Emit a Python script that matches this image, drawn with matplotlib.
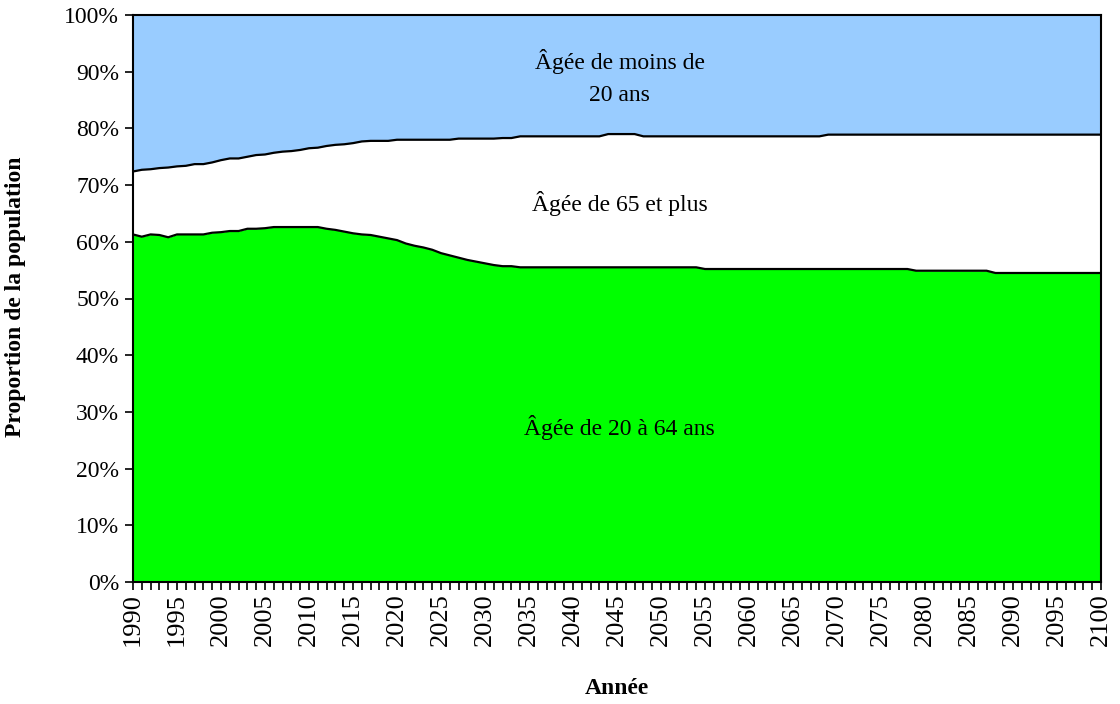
import numpy as np
import matplotlib
matplotlib.use("Agg")
import matplotlib.pyplot as plt
from matplotlib.ticker import MultipleLocator, FuncFormatter

years = list(range(1990, 2101))

# Share (%) of population aged 20 to 64
age_20_64 = [
    61.3, 60.9, 61.3, 61.2, 60.8, 61.3, 61.3, 61.3, 61.3, 61.6,
    61.7, 61.9, 61.9, 62.3, 62.3, 62.4, 62.6, 62.6, 62.6, 62.6,
    62.6, 62.6, 62.3, 62.1, 61.8, 61.5, 61.3, 61.2, 60.9, 60.6,
    60.3, 59.7, 59.3, 59.0, 58.6, 58.0, 57.6, 57.2, 56.8, 56.5,
    56.2, 55.9, 55.7, 55.7, 55.5, 55.5, 55.5, 55.5, 55.5, 55.5,
    55.5, 55.5, 55.5, 55.5, 55.5, 55.5, 55.5, 55.5, 55.5, 55.5,
    55.5, 55.5, 55.5, 55.5, 55.5, 55.2, 55.2, 55.2, 55.2, 55.2,
    55.2, 55.2, 55.2, 55.2, 55.2, 55.2, 55.2, 55.2, 55.2, 55.2,
    55.2, 55.2, 55.2, 55.2, 55.2, 55.2, 55.2, 55.2, 55.2, 54.9,
    54.9, 54.9, 54.9, 54.9, 54.9, 54.9, 54.9, 54.9, 54.5, 54.5,
    54.5, 54.5, 54.5, 54.5, 54.5, 54.5, 54.5, 54.5, 54.5, 54.5,
    54.5,
]

# Share (%) of population aged 65 and over
age_65_plus = [
    11.1, 11.8, 11.5, 11.8, 12.3, 12.0, 12.1, 12.4, 12.4, 12.4,
    12.7, 12.8, 12.8, 12.7, 13.0, 13.0, 13.1, 13.3, 13.4, 13.6,
    13.9, 14.0, 14.6, 15.0, 15.4, 15.9, 16.4, 16.6, 16.9, 17.2,
    17.7, 18.3, 18.7, 19.0, 19.4, 20.0, 20.4, 21.0, 21.4, 21.7,
    22.0, 22.3, 22.6, 22.6, 23.1, 23.1, 23.1, 23.1, 23.1, 23.1,
    23.1, 23.1, 23.1, 23.1, 23.5, 23.5, 23.5, 23.5, 23.1, 23.1,
    23.1, 23.1, 23.1, 23.1, 23.1, 23.4, 23.4, 23.4, 23.4, 23.4,
    23.4, 23.4, 23.4, 23.4, 23.4, 23.4, 23.4, 23.4, 23.4, 23.7,
    23.7, 23.7, 23.7, 23.7, 23.7, 23.7, 23.7, 23.7, 23.7, 24.0,
    24.0, 24.0, 24.0, 24.0, 24.0, 24.0, 24.0, 24.0, 24.4, 24.4,
    24.4, 24.4, 24.4, 24.4, 24.4, 24.4, 24.4, 24.4, 24.4, 24.4,
    24.4,
]

# Share (%) of population under 20
age_under_20 = [
    27.6, 27.3, 27.2, 27.0, 26.9, 26.7, 26.6, 26.3, 26.3, 26.0,
    25.6, 25.3, 25.3, 25.0, 24.7, 24.6, 24.3, 24.1, 24.0, 23.8,
    23.5, 23.4, 23.1, 22.9, 22.8, 22.6, 22.3, 22.2, 22.2, 22.2,
    22.0, 22.0, 22.0, 22.0, 22.0, 22.0, 22.0, 21.8, 21.8, 21.8,
    21.8, 21.8, 21.7, 21.7, 21.4, 21.4, 21.4, 21.4, 21.4, 21.4,
    21.4, 21.4, 21.4, 21.4, 21.0, 21.0, 21.0, 21.0, 21.4, 21.4,
    21.4, 21.4, 21.4, 21.4, 21.4, 21.4, 21.4, 21.4, 21.4, 21.4,
    21.4, 21.4, 21.4, 21.4, 21.4, 21.4, 21.4, 21.4, 21.4, 21.1,
    21.1, 21.1, 21.1, 21.1, 21.1, 21.1, 21.1, 21.1, 21.1, 21.1,
    21.1, 21.1, 21.1, 21.1, 21.1, 21.1, 21.1, 21.1, 21.1, 21.1,
    21.1, 21.1, 21.1, 21.1, 21.1, 21.1, 21.1, 21.1, 21.1, 21.1,
    21.1,
]

area_labels = ["Âgée de 20 à 64 ans", "Âgée de 65 et plus", "Âgée de moins de\n20 ans"]
xlabel = "Année"
ylabel = "Proportion de la population"

plt.rcParams['font.family'] = ['Liberation Serif', 'DejaVu Serif']

x = np.array(years)
g = np.array(age_20_64)
w = np.array(age_65_plus)
b = np.array(age_under_20)
low = g
mid = g + w
top = g + w + b

fig = plt.figure(figsize=(11.2, 7.04), dpi=100)
ax = fig.add_axes([133/1120, 1-582/704, (1101-133)/1120, (582-15)/704])

ax.fill_between(x, 0, low, color='#00FF00', linewidth=0)
ax.fill_between(x, low, mid, color='white', linewidth=0)
ax.fill_between(x, mid, top, color='#99CCFF', linewidth=0)
ax.plot(x, low, color='black', lw=1.6)
ax.plot(x, mid, color='black', lw=1.6)

ax.set_xlim(1990, 2100)
ax.set_ylim(0, 100)
ax.xaxis.set_major_locator(MultipleLocator(5))
ax.xaxis.set_minor_locator(MultipleLocator(1))
ax.yaxis.set_major_locator(MultipleLocator(10))
ax.yaxis.set_major_formatter(FuncFormatter(lambda v, p: f"{int(round(v))}%"))

ax.tick_params(axis='x', which='major', length=6, width=1.2, labelsize=19, pad=2)
ax.tick_params(axis='x', which='minor', length=6, width=1.2)
ax.tick_params(axis='y', which='major', length=6, width=1.2, labelsize=17, pad=4)
plt.setp(ax.get_xticklabels(), rotation=90)

for s in ax.spines.values():
    s.set_linewidth(1.5)
    s.set_color('black')

ax.text(2045.3, 27.3, area_labels[0], ha='center', va='center', fontsize=17)
ax.text(2045.3, 66.8, area_labels[1], ha='center', va='center', fontsize=17)
ax.text(2045.3, 89.0, area_labels[2], ha='center', va='center', fontsize=17, linespacing=1.7)

fig.text(617/1120, 1-688/704, xlabel, ha='center', va='center', fontsize=17, fontweight='bold')
fig.text(16/1120, 1-297/704, ylabel, ha='center', va='center', fontsize=17, fontweight='bold', rotation=90)

fig.savefig('out.png', dpi=100)
